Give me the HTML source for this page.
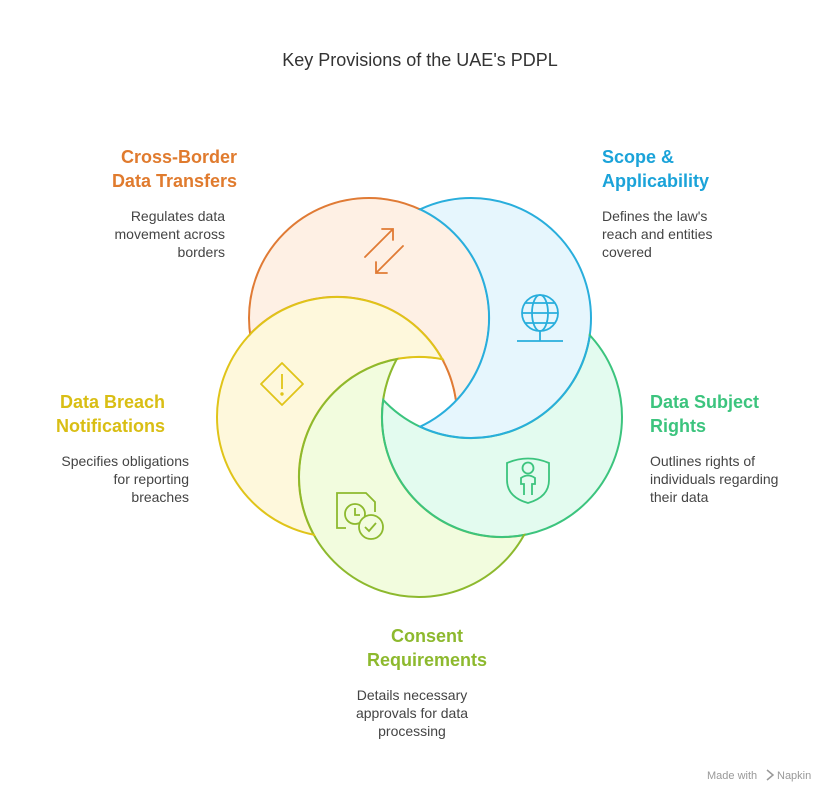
<!DOCTYPE html>
<html><head><meta charset="utf-8"><style>
html,body{margin:0;padding:0;background:#fff;}
svg{display:block;}
text{font-family:"Liberation Sans",Arial,sans-serif;}
.h{font-size:18px;font-weight:bold;}
.d{font-size:14px;fill:#444;}
</style></head><body>
<svg width="840" height="802" viewBox="0 0 840 802" xmlns="http://www.w3.org/2000/svg">
<defs>
<mask id="mO" maskUnits="userSpaceOnUse" x="0" y="0" width="840" height="802"><circle cx="369" cy="318" r="121.5" fill="#fff"/><circle cx="337" cy="417" r="119" fill="#000"/></mask>
<mask id="mO2" maskUnits="userSpaceOnUse" x="0" y="0" width="840" height="802"><circle cx="369" cy="318" r="121.5" fill="#fff"/><circle cx="337" cy="417" r="119" fill="#000"/><circle cx="471" cy="318" r="119" fill="#000"/></mask>
<mask id="mB" maskUnits="userSpaceOnUse" x="0" y="0" width="840" height="802"><circle cx="471" cy="318" r="121.5" fill="#fff"/><circle cx="369" cy="318" r="119" fill="#000"/></mask>
<mask id="mG" maskUnits="userSpaceOnUse" x="0" y="0" width="840" height="802"><circle cx="502" cy="417" r="121.5" fill="#fff"/><circle cx="471" cy="318" r="119" fill="#000"/></mask>
<mask id="mL" maskUnits="userSpaceOnUse" x="0" y="0" width="840" height="802"><circle cx="419" cy="477" r="121.5" fill="#fff"/><circle cx="502" cy="417" r="119" fill="#000"/></mask>
<mask id="mY" maskUnits="userSpaceOnUse" x="0" y="0" width="840" height="802"><circle cx="337" cy="417" r="121.5" fill="#fff"/><circle cx="419" cy="477" r="119" fill="#000"/></mask>
</defs>
<text x="420" y="66" text-anchor="middle" style="font-size:18px" fill="#333">Key Provisions of the UAE's PDPL</text>

<g mask="url(#mO)" stroke-width="2.2"><circle cx="369" cy="318" r="120" fill="#FEF0E4"/><circle cx="337" cy="417" r="120" fill="none" stroke="#E07B35"/></g>
<g mask="url(#mB)" stroke-width="2.2"><circle cx="471" cy="318" r="120" fill="#E6F6FD"/><circle cx="369" cy="318" r="120" fill="none" stroke="#29AEDC"/></g>
<g mask="url(#mG)" stroke-width="2.2"><circle cx="502" cy="417" r="120" fill="#E3FBEF"/><circle cx="471" cy="318" r="120" fill="none" stroke="#3CC47E"/></g>
<g mask="url(#mL)" stroke-width="2.2"><circle cx="419" cy="477" r="120" fill="#F2FCDE"/><circle cx="502" cy="417" r="120" fill="none" stroke="#8DB92E"/></g>
<g mask="url(#mY)" stroke-width="2.2"><circle cx="337" cy="417" r="120" fill="#FEF8DC"/><circle cx="419" cy="477" r="120" fill="none" stroke="#E0C419"/></g>
<g stroke-width="2" fill="none">
<circle mask="url(#mO2)" cx="369" cy="318" r="120" stroke="#E07B35"/>
<circle mask="url(#mB)" cx="471" cy="318" r="120" stroke="#29AEDC"/>
<circle mask="url(#mG)" cx="502" cy="417" r="120" stroke="#3CC47E"/>
<circle mask="url(#mL)" cx="419" cy="477" r="120" stroke="#8DB92E"/>
<circle mask="url(#mY)" cx="337" cy="417" r="120" stroke="#E0C419"/>
</g>

<g fill="none" stroke="#E07B35" stroke-width="1.8" stroke-linecap="round">
<path d="M365 257 L393 229 M382 229 L393 229 L393 240"/>
<path d="M403 246 L376 273 M376 262 L376 273 L387 273"/>
</g>
<g fill="none" stroke="#29AEDC" stroke-width="1.8">
<circle cx="540" cy="313" r="18"/><ellipse cx="540" cy="313" rx="8" ry="18"/>
<line x1="522" y1="313" x2="558" y2="313"/><line x1="525" y1="303" x2="555" y2="303"/><line x1="525" y1="323" x2="555" y2="323"/>
<line x1="540" y1="331" x2="540" y2="341"/><line x1="517" y1="341" x2="563" y2="341"/>
</g>
<g fill="none" stroke="#E0C419" stroke-width="1.8" stroke-linejoin="round">
<path d="M282 363 L303 384 L282 405 L261 384 Z"/><line x1="282" y1="374" x2="282" y2="389"/><circle cx="282" cy="394" r="0.8"/>
</g>
<g fill="none" stroke="#3CC47E" stroke-width="1.8">
<path d="M507 463 Q528 454 549 463 L549 480 Q549 497 528 503 Q507 497 507 480 Z"/>
<circle cx="528" cy="468" r="5.5"/><path d="M524 495 L524 484 L521 484 L521 478 Q528 473 535 478 L535 484 L532 484 L532 495"/>
</g>
<g fill="none" stroke="#8DB92E" stroke-width="1.8">
<path d="M346 528 L337 528 L337 493 L366 493 L375 502 L375 512"/>
<circle cx="355" cy="514" r="10"/><path d="M355 508 L355 515 L360 515"/>
<circle cx="371" cy="527" r="12" fill="#F2FCDE"/><path d="M365 527 L369 531 L376 523"/>
</g>

<g fill="#E07B2E" text-anchor="end"><text x="237" y="163" class="h">Cross-Border</text><text x="237" y="187" class="h">Data Transfers</text></g>
<g text-anchor="end"><text x="225" y="221" class="d">Regulates data</text><text x="225" y="239" class="d">movement across</text><text x="225" y="257" class="d">borders</text></g>

<g fill="#1BA3D9"><text x="602" y="163" class="h">Scope &amp;</text><text x="602" y="187" class="h">Applicability</text></g>
<g><text x="602" y="221" class="d">Defines the law's</text><text x="602" y="239" class="d">reach and entities</text><text x="602" y="257" class="d">covered</text></g>

<g fill="#3CC47E"><text x="650" y="408" class="h">Data Subject</text><text x="650" y="432" class="h">Rights</text></g>
<g><text x="650" y="466" class="d">Outlines rights of</text><text x="650" y="484" class="d">individuals regarding</text><text x="650" y="502" class="d">their data</text></g>

<g fill="#D9BE14" text-anchor="end"><text x="165" y="408" class="h">Data Breach</text><text x="165" y="432" class="h">Notifications</text></g>
<g text-anchor="end"><text x="189" y="466" class="d">Specifies obligations</text><text x="189" y="484" class="d">for reporting</text><text x="189" y="502" class="d">breaches</text></g>

<g fill="#8DB92E" text-anchor="middle"><text x="427" y="642" class="h">Consent</text><text x="427" y="666" class="h">Requirements</text></g>
<g text-anchor="middle"><text x="412" y="700" class="d">Details necessary</text><text x="412" y="718" class="d">approvals for data</text><text x="412" y="736" class="d">processing</text></g>

<text x="707" y="779" style="font-size:11px" fill="#999">Made with</text>
<path d="M767 770 L773 775 L767 780" fill="none" stroke="#999" stroke-width="1.5"/>
<text x="777" y="779" style="font-size:11px" fill="#999">Napkin</text>
</svg>
</body></html>
